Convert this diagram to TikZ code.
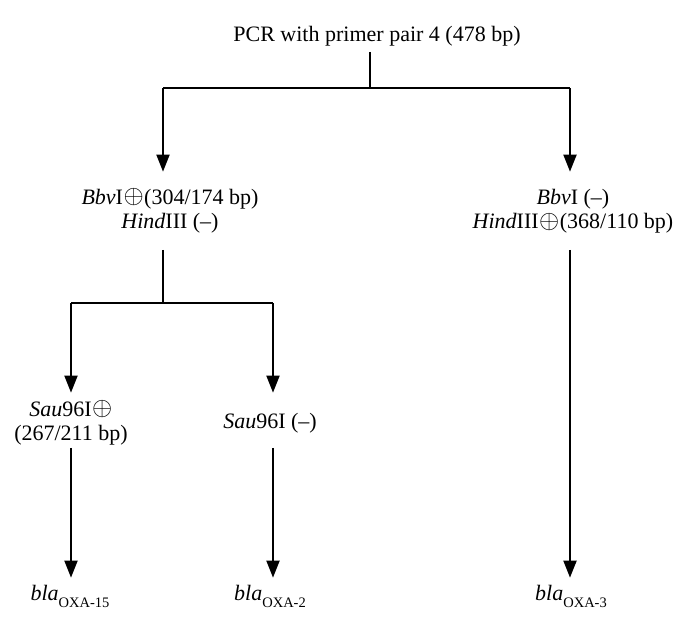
\documentclass[tikz,border=0pt]{standalone}
\usepackage{fontspec}
\usepackage{graphicx}
\setmainfont{Liberation Serif}
\usetikzlibrary{arrows.meta}
\newcommand{\labtab}[1]{\begin{tabular}[t]{@{}c@{}}#1\end{tabular}}
\newcommand{\blasub}[1]{\textit{bla}\raisebox{-7pt}{\fontsize{14.5}{14.5}\selectfont #1}}
\newcommand{\plussign}{\kern0.5pt\raisebox{0.5pt}{\scalebox{1.25}{$\oplus$}}\kern0.5pt}
\begin{document}
\begin{tikzpicture}[x=1pt,y=-1pt,
  lbl/.style={inner sep=0pt, outer sep=0pt, anchor=base, font=\fontsize{22}{24.5}\selectfont},
  wire/.style={line width=2pt},
  arr/.style={line width=2pt, -{Triangle[length=17pt,width=13pt]}}]
\useasboundingbox (0,0) rectangle (677,619);
% labels
\node[lbl] (pcr)  at (377,41)  {\labtab{PCR with primer pair 4 (478 bp)}};
\node[lbl] (bbvL) at (170,204) {\labtab{\textit{Bbv}I\plussign(304/174 bp)\\\textit{Hind}III (–)}};
\node[lbl] (bbvR) at (573,204) {\labtab{\textit{Bbv}I (–)\\\textit{Hind}III\plussign(368/110 bp)}};
\node[lbl] (sauL) at (71,416)  {\labtab{\textit{Sau}96I\plussign\\(267/211 bp)}};
\node[lbl] (sauR) at (270,428) {\labtab{\textit{Sau}96I (–)}};
\node[lbl] (blaL) at (70,600)  {\labtab{\blasub{OXA-15}}};
\node[lbl] (blaM) at (270,600) {\labtab{\blasub{OXA-2}}};
\node[lbl] (blaR) at (571,600) {\labtab{\blasub{OXA-3}}};
% junctions
\coordinate (j0) at (370,88);
\coordinate (bL) at (163,88);
\coordinate (bR) at (570,88);
\coordinate (j1) at (163,303);
\coordinate (cL) at (71,303);
\coordinate (cR) at (273,303);
% connectors
\draw[wire, shorten <=3.6pt] (pcr.south -| j0) -- (j0);
\draw[wire] (bL) -- (bR);
\draw[arr, shorten >=15.2pt] (bL) -- (bL |- bbvL.north);
\draw[arr, shorten >=15.2pt] (bR) -- (bR |- bbvR.north);
\draw[wire, shorten <=14.1pt] (bbvL.south -| j1) -- (j1);
\draw[wire] (cL) -- (cR);
\draw[arr, shorten >=6.2pt] (cL) -- (cL |- sauL.north);
\draw[arr, shorten >=18.2pt] (cR) -- (cR |- sauR.north);
\draw[arr, shorten <=0.1pt, shorten >=5.2pt] (sauL.south -| cL) -- (blaL.north -| cL);
\draw[arr, shorten <=12.6pt, shorten >=5.2pt] (sauR.south -| cR) -- (blaM.north -| cR);
\draw[arr, shorten <=14.1pt, shorten >=5.2pt] (bbvR.south -| bR) -- (blaR.north -| bR);
\end{tikzpicture}
\end{document}
